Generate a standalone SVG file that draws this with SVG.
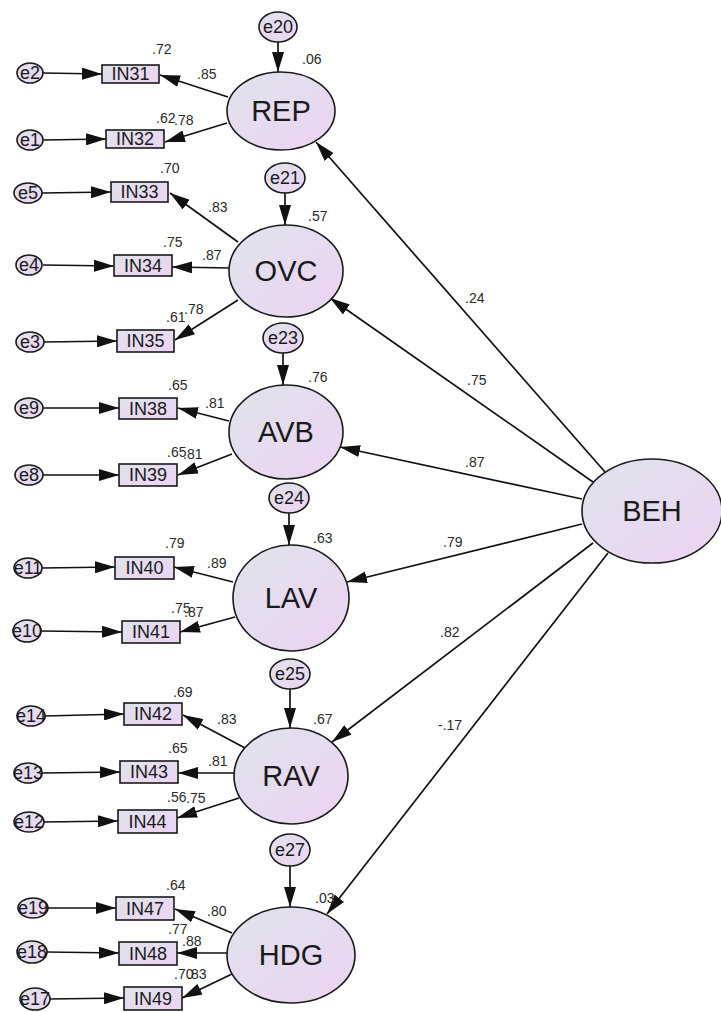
<svg xmlns="http://www.w3.org/2000/svg" width="721" height="1012" viewBox="0 0 721 1012">
<style>
.n{stroke:#1a1a1a;stroke-width:1.6;fill:url(#g)}
.lat{font-family:"Liberation Sans",Arial,sans-serif;font-size:29px;fill:#1a1a1a;text-anchor:middle}
.ind{font-family:"Liberation Sans",Arial,sans-serif;font-size:18px;fill:#1a1a1a;text-anchor:middle}
.err{font-family:"Liberation Sans",Arial,sans-serif;font-size:18px;fill:#1a1a1a;text-anchor:middle}
.num{font-family:"Liberation Sans",Arial,sans-serif;font-size:14px;fill:#2a2a2a}
.c line{stroke:#111;stroke-width:1.7;marker-end:url(#a)}
</style>
<defs>
<linearGradient id="g" x1="0" y1="0" x2="1" y2="1">
<stop offset="0" stop-color="#dfe3ec"/>
<stop offset="1" stop-color="#edd3f3"/>
</linearGradient>
<marker id="a" markerUnits="userSpaceOnUse" markerWidth="20" markerHeight="12" refX="20" refY="6" orient="auto">
<path d="M0,0 L20,6 L0,12 z" fill="#111"/>
</marker>
</defs>
<rect width="721" height="1012" fill="#fff"/>

<g class="c" id="connectors">
<line x1="43" y1="73" x2="102" y2="74"/>
<line x1="43" y1="140" x2="106" y2="139"/>
<line x1="42" y1="193" x2="111" y2="192"/>
<line x1="43" y1="265" x2="114" y2="266"/>
<line x1="44" y1="342" x2="117" y2="341"/>
<line x1="43" y1="408" x2="119" y2="408"/>
<line x1="43" y1="475" x2="119" y2="475"/>
<line x1="42" y1="568" x2="115" y2="567"/>
<line x1="41" y1="631" x2="122" y2="632"/>
<line x1="45" y1="716" x2="124" y2="714"/>
<line x1="42" y1="773" x2="120" y2="772"/>
<line x1="43" y1="822" x2="118" y2="821"/>
<line x1="47" y1="908" x2="116" y2="908"/>
<line x1="46" y1="952" x2="119" y2="953"/>
<line x1="49" y1="999" x2="124" y2="998"/>
<line x1="228" y1="97" x2="160" y2="75"/>
<line x1="227" y1="123" x2="165" y2="142"/>
<line x1="238" y1="242" x2="170" y2="193"/>
<line x1="229" y1="268" x2="172" y2="267"/>
<line x1="238" y1="300" x2="175" y2="340"/>
<line x1="229" y1="421" x2="178" y2="408"/>
<line x1="232" y1="454" x2="178" y2="475"/>
<line x1="233" y1="582" x2="174" y2="567"/>
<line x1="235" y1="617" x2="180" y2="632"/>
<line x1="245" y1="748" x2="183" y2="715"/>
<line x1="235" y1="773" x2="178" y2="773"/>
<line x1="239" y1="798" x2="177" y2="818"/>
<line x1="232" y1="933" x2="175" y2="909"/>
<line x1="227" y1="953" x2="177" y2="953"/>
<line x1="232" y1="974" x2="182" y2="998"/>
<line x1="278" y1="42" x2="278" y2="72"/>
<line x1="285" y1="193" x2="285" y2="225"/>
<line x1="283" y1="353" x2="283" y2="385"/>
<line x1="289" y1="513" x2="289" y2="545"/>
<line x1="290" y1="689" x2="290" y2="728"/>
<line x1="290" y1="866" x2="290" y2="907"/>
<line x1="605" y1="472" x2="316" y2="142"/>
<line x1="593" y1="482" x2="330" y2="298"/>
<line x1="582" y1="499" x2="340" y2="447"/>
<line x1="582" y1="524" x2="347" y2="582"/>
<line x1="593" y1="543" x2="332" y2="742"/>
<line x1="608" y1="553" x2="327" y2="914"/>
</g>

<g id="REP"><ellipse class="n" cx="281" cy="111" rx="54" ry="39"/><text class="lat" x="281" y="121">REP</text></g>
<g id="OVC"><ellipse class="n" cx="286" cy="271" rx="57" ry="46"/><text class="lat" x="286" y="281">OVC</text></g>
<g id="AVB"><ellipse class="n" cx="286" cy="432" rx="57" ry="47"/><text class="lat" x="286" y="442">AVB</text></g>
<g id="LAV"><ellipse class="n" cx="291" cy="598" rx="58" ry="53"/><text class="lat" x="291" y="608">LAV</text></g>
<g id="RAV"><ellipse class="n" cx="291" cy="776" rx="57" ry="48"/><text class="lat" x="291" y="786">RAV</text></g>
<g id="HDG"><ellipse class="n" cx="291" cy="955" rx="64" ry="48"/><text class="lat" x="291" y="965">HDG</text></g>
<g id="BEH"><ellipse class="n" cx="652" cy="511" rx="70" ry="52"/><text class="lat" x="652" y="521">BEH</text></g>

<g id="IN31"><rect class="n" x="102" y="65" width="57" height="18"/><text class="ind" x="130.5" y="80">IN31</text></g>
<g id="IN32"><rect class="n" x="106" y="130" width="58" height="18"/><text class="ind" x="135" y="145">IN32</text></g>
<g id="IN33"><rect class="n" x="111" y="182" width="57" height="20"/><text class="ind" x="139.5" y="198">IN33</text></g>
<g id="IN34"><rect class="n" x="114" y="255" width="58" height="21"/><text class="ind" x="143" y="272">IN34</text></g>
<g id="IN35"><rect class="n" x="117" y="330" width="57" height="22"/><text class="ind" x="145.5" y="347">IN35</text></g>
<g id="IN38"><rect class="n" x="119" y="398" width="58" height="21"/><text class="ind" x="148" y="415">IN38</text></g>
<g id="IN39"><rect class="n" x="119" y="464" width="58" height="22"/><text class="ind" x="148" y="481">IN39</text></g>
<g id="IN40"><rect class="n" x="115" y="557" width="59" height="22"/><text class="ind" x="144.5" y="574">IN40</text></g>
<g id="IN41"><rect class="n" x="122" y="621" width="58" height="22"/><text class="ind" x="151" y="638">IN41</text></g>
<g id="IN42"><rect class="n" x="124" y="703" width="58" height="22"/><text class="ind" x="153" y="720">IN42</text></g>
<g id="IN43"><rect class="n" x="120" y="761" width="58" height="22"/><text class="ind" x="149" y="778">IN43</text></g>
<g id="IN44"><rect class="n" x="118" y="810" width="59" height="23"/><text class="ind" x="147.5" y="828">IN44</text></g>
<g id="IN47"><rect class="n" x="116" y="897" width="58" height="23"/><text class="ind" x="145" y="915">IN47</text></g>
<g id="IN48"><rect class="n" x="119" y="942" width="58" height="23"/><text class="ind" x="148" y="960">IN48</text></g>
<g id="IN49"><rect class="n" x="124" y="987" width="58" height="23"/><text class="ind" x="153" y="1005">IN49</text></g>

<g id="e20"><ellipse class="n" cx="278" cy="27" rx="19" ry="15"/><text class="err" x="278" y="33">e20</text></g>
<g id="e21"><ellipse class="n" cx="285" cy="178" rx="20" ry="15"/><text class="err" x="285" y="184">e21</text></g>
<g id="e23"><ellipse class="n" cx="283" cy="338" rx="20" ry="15"/><text class="err" x="283" y="344">e23</text></g>
<g id="e24"><ellipse class="n" cx="289" cy="498" rx="20" ry="15"/><text class="err" x="289" y="504">e24</text></g>
<g id="e25"><ellipse class="n" cx="290" cy="674" rx="20" ry="15"/><text class="err" x="290" y="680">e25</text></g>
<g id="e27"><ellipse class="n" cx="290" cy="850" rx="20" ry="16"/><text class="err" x="290" y="856">e27</text></g>

<g id="e2"><ellipse class="n" cx="30" cy="73" rx="13" ry="10"/><text class="err" x="30" y="79">e2</text></g>
<g id="e1"><ellipse class="n" cx="30" cy="140" rx="13" ry="10"/><text class="err" x="30" y="146">e1</text></g>
<g id="e5"><ellipse class="n" cx="28" cy="193" rx="14" ry="10"/><text class="err" x="28" y="199">e5</text></g>
<g id="e4"><ellipse class="n" cx="29" cy="265" rx="13" ry="10"/><text class="err" x="29" y="271">e4</text></g>
<g id="e3"><ellipse class="n" cx="30" cy="342" rx="14" ry="10"/><text class="err" x="30" y="348">e3</text></g>
<g id="e9"><ellipse class="n" cx="29" cy="408" rx="14" ry="10"/><text class="err" x="29" y="414">e9</text></g>
<g id="e8"><ellipse class="n" cx="29" cy="475" rx="14" ry="10"/><text class="err" x="29" y="481">e8</text></g>
<g id="e11"><ellipse class="n" cx="28" cy="568" rx="14" ry="10"/><text class="err" x="28" y="574">e11</text></g>
<g id="e10"><ellipse class="n" cx="27" cy="631" rx="14" ry="11"/><text class="err" x="27" y="637">e10</text></g>
<g id="e14"><ellipse class="n" cx="31" cy="716" rx="14" ry="10"/><text class="err" x="31" y="722">e14</text></g>
<g id="e13"><ellipse class="n" cx="28" cy="773" rx="14" ry="10"/><text class="err" x="28" y="779">e13</text></g>
<g id="e12"><ellipse class="n" cx="29" cy="822" rx="15" ry="10"/><text class="err" x="29" y="828">e12</text></g>
<g id="e19"><ellipse class="n" cx="33" cy="908" rx="15" ry="10"/><text class="err" x="33" y="914">e19</text></g>
<g id="e18"><ellipse class="n" cx="32" cy="952" rx="15" ry="11"/><text class="err" x="32" y="958">e18</text></g>
<g id="e17"><ellipse class="n" cx="35" cy="999" rx="15" ry="11"/><text class="err" x="35" y="1005">e17</text></g>

<g id="labels">
<text class="num" x="152" y="54">.72</text>
<text class="num" x="197" y="79">.85</text>
<text class="num" x="302" y="64">.06</text>
<text class="num" x="156" y="123">.62</text>
<text class="num" x="174" y="125">.78</text>
<text class="num" x="160" y="173">.70</text>
<text class="num" x="208" y="212">.83</text>
<text class="num" x="308" y="221">.57</text>
<text class="num" x="163" y="247">.75</text>
<text class="num" x="202" y="260">.87</text>
<text class="num" x="166" y="322">.61</text>
<text class="num" x="184" y="314">.78</text>
<text class="num" x="168" y="390">.65</text>
<text class="num" x="205" y="408">.81</text>
<text class="num" x="308" y="382">.76</text>
<text class="num" x="167" y="457">.65</text>
<text class="num" x="183" y="459">.81</text>
<text class="num" x="165" y="548">.79</text>
<text class="num" x="207" y="568">.89</text>
<text class="num" x="313" y="543">.63</text>
<text class="num" x="171" y="613">.75</text>
<text class="num" x="184" y="617">.87</text>
<text class="num" x="173" y="697">.69</text>
<text class="num" x="217" y="724">.83</text>
<text class="num" x="313" y="724">.67</text>
<text class="num" x="168" y="753">.65</text>
<text class="num" x="208" y="766">.81</text>
<text class="num" x="167" y="802">.56</text>
<text class="num" x="186" y="803">.75</text>
<text class="num" x="166" y="890">.64</text>
<text class="num" x="207" y="916">.80</text>
<text class="num" x="315" y="903">.03</text>
<text class="num" x="168" y="934">.77</text>
<text class="num" x="182" y="946">.88</text>
<text class="num" x="174" y="979">.70</text>
<text class="num" x="187" y="979">.83</text>
<text class="num" x="465" y="303">.24</text>
<text class="num" x="467" y="385">.75</text>
<text class="num" x="465" y="467">.87</text>
<text class="num" x="443" y="547">.79</text>
<text class="num" x="440" y="637">.82</text>
<text class="num" x="438" y="730">-.17</text>
</g>
</svg>
